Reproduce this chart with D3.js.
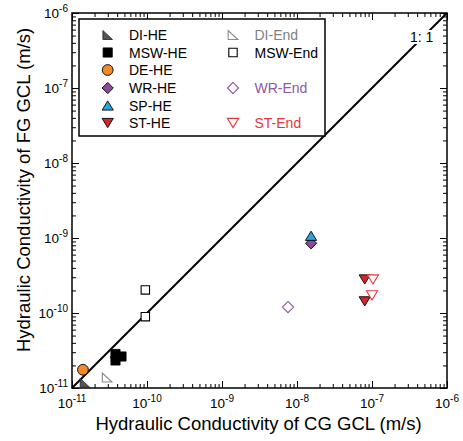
<!DOCTYPE html>
<html><head><meta charset="utf-8">
<script src="https://cdn.jsdelivr.net/npm/d3@7"></script>
<style>
body{margin:0;background:#fff}
text{font-family:"Liberation Sans",Arial,Helvetica,sans-serif}
</style>
</head><body>
<svg id="chart" width="463" height="441"></svg>
<script>
// ---------- data ----------
const categories = ["DI-HE","MSW-HE","DE-HE","WR-HE","SP-HE","ST-HE","DI-End","MSW-End","WR-End","ST-End"];
// [CG GCL k, FG GCL k] in m/s
const diHE   = [[1.49e-11, 1.17e-11]];
const mswHE  = [[3.8e-11, 2.84e-11],[3.8e-11, 2.33e-11],[4.57e-11, 2.63e-11]];
const deHE   = [[1.40e-11, 1.75e-11]];
const wrHE   = [[1.54e-8, 8.5e-10]];
const spHE   = [[1.54e-8, 1.07e-9]];
const stHE   = [[8.0e-8, 2.8e-10],[8.0e-8, 1.43e-10]];
const diEnd  = [[2.94e-11, 1.38e-11]];
const mswEnd = [[9.5e-11, 2.03e-10],[9.5e-11, 8.93e-11]];
const wrEnd  = [[7.59e-9, 1.2e-10]];
const stEnd  = [[1.03e-7, 2.8e-10],[1.0e-7, 1.72e-10]];
const tickExponents = [-11,-10,-9,-8,-7,-6];
const oneToOne = [1e-11, 1e-6];

// ---------- styling ----------
const series = [
  {name:categories[0], data:diHE,  shape:"rtri",   fill:"#555555", stroke:"#222", sw:0.8, text:"#000", col:0, row:0},
  {name:categories[1], data:mswHE, shape:"square", fill:"#000",    stroke:"#000", sw:0.8, text:"#000", col:0, row:1},
  {name:categories[2], data:deHE,  shape:"circle", fill:"#F28A28", stroke:"#000", sw:0.9, text:"#000", col:0, row:2},
  {name:categories[3], data:wrHE,  shape:"diamond",fill:"#8A4A9C", stroke:"#000", sw:0.9, text:"#000", col:0, row:3},
  {name:categories[4], data:spHE,  shape:"triup",  fill:"#2BA3DC", stroke:"#000", sw:0.9, text:"#000", col:0, row:4},
  {name:categories[5], data:stHE,  shape:"tridn",  fill:"#D2262E", stroke:"#000", sw:0.9, text:"#000", col:0, row:5},
  {name:categories[6], data:diEnd, shape:"rtri",   fill:"#fff",    stroke:"#8a8a8a", sw:1.1, text:"#7f7f7f", col:1, row:0},
  {name:categories[7], data:mswEnd,shape:"osquare",fill:"#fff",    stroke:"#000", sw:1.1, text:"#000", col:1, row:1},
  {name:categories[8], data:wrEnd, shape:"diamond",fill:"#fff",    stroke:"#8E55AA", sw:1.1, text:"#8E55AA", col:1, row:3},
  {name:categories[9], data:stEnd, shape:"tridn",  fill:"#fff",    stroke:"#E8363C", sw:1.1, text:"#E8363C", col:1, row:5}
];

function shapePath(shape){
  switch(shape){
    case "rtri": return "M-4.8,-4.5L-4.8,4.5L4.8,4.5Z";
    case "square": return "M-4.6,-4.6H4.6V4.6H-4.6Z";
    case "osquare": return "M-4.2,-4.2H4.2V4.2H-4.2Z";
    case "circle": return d3.arc()({innerRadius:0,outerRadius:5.4,startAngle:0,endAngle:2*Math.PI});
    case "diamond": return "M0,-5.6L5.6,0L0,5.6L-5.6,0Z";
    case "triup": return "M0,-4.6L5.6,4.6L-5.6,4.6Z";
    case "tridn": return "M0,4.6L5.6,-4.6L-5.6,-4.6Z";
  }
}

const svg = d3.select("#chart");
const L=72, R=447, T=13, B=388;
const x = d3.scaleLog().domain([1e-11,1e-6]).range([L,R]);
const y = d3.scaleLog().domain([1e-11,1e-6]).range([B,T]);

const majors = tickExponents.map(e=>Math.pow(10,e));
const minors = [];
tickExponents.slice(0,-1).forEach(e=>{for(let m=2;m<=9;m++) minors.push(m*Math.pow(10,e));});

function drawAxis(axisFn, scale, vals, size, transform){
  const g = svg.append("g").attr("transform",transform)
    .call(axisFn(scale).tickValues(vals).tickSize(-size).tickSizeOuter(0).tickFormat(""));
  g.select(".domain").remove();
  g.selectAll("line").attr("stroke","#000").attr("stroke-width",1);
}
[[d3.axisBottom,x,`translate(0,${B})`],[d3.axisTop,x,`translate(0,${T})`],
 [d3.axisLeft,y,`translate(${L},0)`],[d3.axisRight,y,`translate(${R},0)`]].forEach(([fn,s,tr])=>{
  drawAxis(fn,s,majors,7,tr);
  drawAxis(fn,s,minors,4,tr);
});

// frame
svg.append("rect").attr("x",L).attr("y",T).attr("width",R-L).attr("height",B-T)
  .attr("fill","none").attr("stroke","#000").attr("stroke-width",1.5);

// tick labels
tickExponents.forEach((e,i)=>{
  const v = majors[i];
  const tx = svg.append("text").attr("x",x(v)).attr("y",408).attr("text-anchor","middle")
    .attr("font-size",13.5).attr("fill","#000");
  tx.append("tspan").text("10");
  tx.append("tspan").attr("dy",-6).attr("font-size",10).text("-"+(-e));
  const ty = svg.append("text").attr("x",68).attr("y",y(v)+5).attr("text-anchor","end")
    .attr("font-size",13.5).attr("fill","#000");
  ty.append("tspan").text("10");
  ty.append("tspan").attr("dy",-6).attr("font-size",10).text("-"+(-e));
});

// axis titles
svg.append("text").attr("x",(L+R)/2-1).attr("y",430).attr("text-anchor","middle")
  .attr("font-size",18.5).attr("fill","#000").text("Hydraulic Conductivity of CG GCL (m/s)");
svg.append("text").attr("transform","translate(30,190) rotate(-90)").attr("text-anchor","middle")
  .attr("font-size",18.5).attr("fill","#000").text("Hydraulic Conductivity of FG GCL (m/s)");

// 1:1 line
svg.append("line").attr("x1",x(oneToOne[0])).attr("y1",y(oneToOne[0]))
  .attr("x2",x(oneToOne[1])).attr("y2",y(oneToOne[1]))
  .attr("stroke","#000").attr("stroke-width",2);
svg.append("rect").attr("x",409).attr("y",30).attr("width",25).attr("height",14).attr("fill","#fff");
svg.append("text").attr("x",410).attr("y",41.7).attr("font-size",14).attr("fill","#000").text("1: 1");

// legend
const lg = svg.append("g");
lg.append("rect").attr("x",79).attr("y",19).attr("width",246).attr("height",117)
  .attr("fill","#fff").attr("stroke","#000").attr("stroke-width",1.5);
const rowY = [35,52.5,70,88,105.5,123];
const symX = [107.7,233], txtX=[129,254.5];
series.forEach(s=>{
  lg.append("path").attr("d",shapePath(s.shape))
    .attr("transform",`translate(${symX[s.col]},${rowY[s.row]})`)
    .attr("fill",s.fill).attr("stroke",s.stroke).attr("stroke-width",s.sw);
  lg.append("text").attr("x",txtX[s.col]).attr("y",rowY[s.row]+5).attr("font-size",14)
    .attr("fill",s.text).text(s.name);
});

// data points
series.forEach(s=>{
  svg.append("g").selectAll("path").data(s.data).join("path")
    .attr("d",shapePath(s.shape))
    .attr("transform",d=>`translate(${x(d[0])},${y(d[1])})`)
    .attr("fill",s.fill).attr("stroke",s.stroke).attr("stroke-width",s.sw);
});
</script>
</body></html>
